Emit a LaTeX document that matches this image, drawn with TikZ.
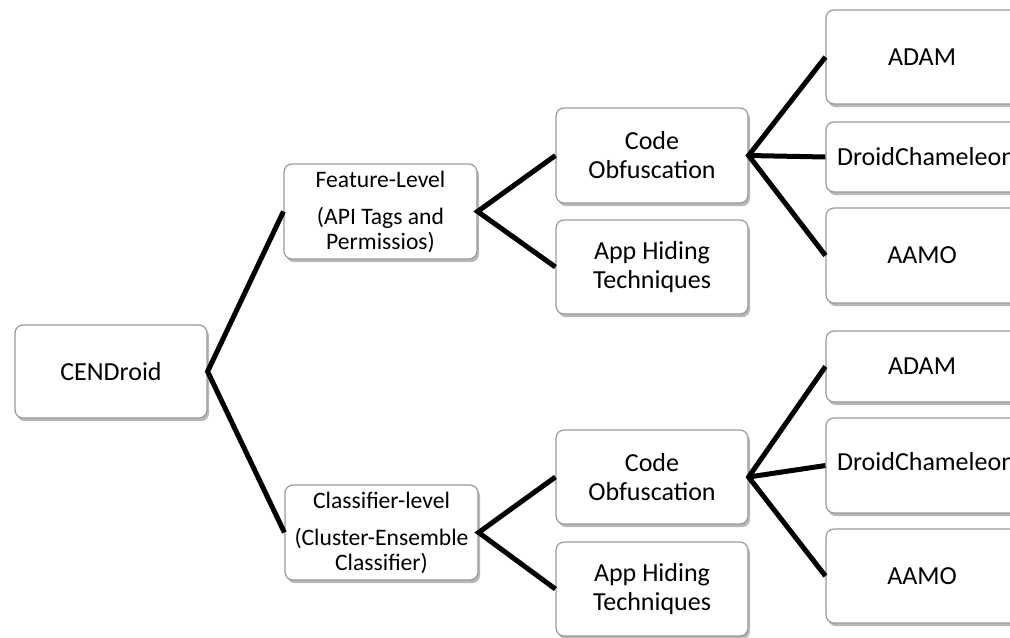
\documentclass[tikz,border=0pt]{standalone}
\usepackage{fontspec}
\setmainfont{Carlito}
\usetikzlibrary{shadows}
\begin{document}
\begin{tikzpicture}[x=0.5pt,y=-0.5pt,
  box/.style={draw=black!40, line width=0.6pt, fill=white, rounded corners=4pt,
    drop shadow={shadow xshift=1pt, shadow yshift=-1.6pt, fill=black, opacity=0.28},
    inner sep=0pt, align=center, font=\fontsize{13}{14.5}\selectfont},
  lvl/.style={box, font=\fontsize{11.8}{12.5}\selectfont},
  conn/.style={line width=2.5pt, line join=miter}]
\useasboundingbox (0,0) rectangle (1010,637);
\clip (0,0) rectangle (1010,637);
% nodes
\node[box, minimum width=96pt, minimum height=46.5pt] (cen) at (111,371.5) {CENDroid};
\node[lvl, minimum width=96.5pt, minimum height=47.5pt] (feat) at (380.5,211.5) {Feature-Level\\[6pt](API Tags and\\Permissios)};
\node[lvl, minimum width=96.5pt, minimum height=47.5pt] (cls) at (381.5,532.5) {Classifier-level\\[6pt](Cluster-Ensemble\\Classifier)};
\node[box, minimum width=96pt, minimum height=47.5pt] (codet) at (652,155.5) {Code\\Obfuscation};
\node[box, minimum width=96pt, minimum height=47pt] (appt) at (652,267) {App Hiding\\Techniques};
\node[box, minimum width=96pt, minimum height=47pt] (codeb) at (652,477) {Code\\Obfuscation};
\node[box, minimum width=96pt, minimum height=47pt] (appb) at (652,589) {App Hiding\\Techniques};
\node[box, minimum width=96pt, minimum height=47pt] (adamt) at (922,57) {ADAM};
\node[box, minimum width=96pt, minimum height=35pt] (dct) at (922,157) {\hspace*{4pt}DroidChameleon};
\node[box, minimum width=96pt, minimum height=47.5pt] (aamot) at (922,255.5) {AAMO};
\node[box, minimum width=96pt, minimum height=35.5pt] (adamb) at (922,366.5) {ADAM};
\node[box, minimum width=96pt, minimum height=47.5pt] (dcb) at (922,465.5) {\hspace*{4pt}\raisebox{4.25pt}{DroidChameleon}};
\node[box, minimum width=96pt, minimum height=47pt] (aamob) at (922,576) {AAMO};
% connectors
\draw[conn] (feat.west) -- (cen.east) -- (cls.west);
\draw[conn] (codet.west) -- (feat.east) -- (appt.west);
\draw[conn] (codeb.west) -- (cls.east) -- (appb.west);
\draw[conn] (adamt.west) -- (codet.east) -- (aamot.west);
\draw[conn] (codet.east) -- (dct.west);
\draw[conn] (adamb.west) -- (codeb.east) -- (aamob.west);
\draw[conn] (codeb.east) -- (dcb.west);
\end{tikzpicture}
\end{document}
